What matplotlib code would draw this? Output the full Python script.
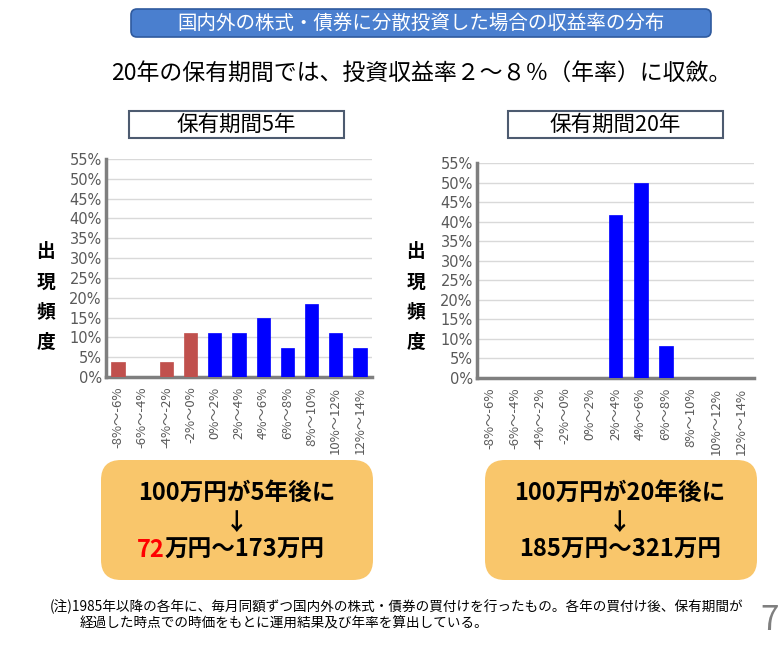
import matplotlib.pyplot as plt
from matplotlib.patches import FancyBboxPatch, Rectangle

plt.rcParams['font.family'] = ['Noto Sans CJK JP', 'DejaVu Sans']

# Data
bins = ['-8%～-6%', '-6%～-4%', '-4%～-2%', '-2%～0%', '0%～2%', '2%～4%',
        '4%～6%', '6%～8%', '8%～10%', '10%～12%', '12%～14%']
freq_5y = [3.7, 0, 3.7, 11.1, 11.1, 11.1, 14.8, 7.4, 18.5, 11.1, 7.4]
freq_20y = [0, 0, 0, 0, 0, 41.7, 50.0, 8.3, 0, 0, 0]
colors_5y = ['#c0504d'] * 4 + ['#0000ff'] * 7
colors_20y = ['#0000ff'] * 11
yticks = list(range(0, 56, 5))

W, H = 782, 646
fig = plt.figure(figsize=(W / 100, H / 100), dpi=100)

# background layer in pixel coordinates
bg = fig.add_axes([0, 0, 1, 1])
bg.set_xlim(0, W)
bg.set_ylim(H, 0)
bg.axis('off')

# title banner
bg.add_patch(FancyBboxPatch((131, 9), 580, 28, boxstyle='round,pad=0,rounding_size=6',
                            facecolor='#4a7fcf', edgecolor='#2f5a9e', linewidth=1.2))
bg.text(421, 23, '国内外の株式・債券に分散投資した場合の収益率の分布', color='white',
        fontsize=14, ha='center', va='center')
bg.text(421, 73, '20年の保有期間では、投資収益率２～８％（年率）に収斂。', color='black',
        fontsize=16.5, ha='center', va='center')

# period boxes
for x0, label in [(129, '保有期間5年'), (508, '保有期間20年')]:
    bg.add_patch(Rectangle((x0, 111), 215, 27, facecolor='white', edgecolor='#4d5b70', linewidth=1.5))
    bg.text(x0 + 107, 125, label, fontsize=15.5, ha='center', va='center')

# orange result boxes
for x0 in (101, 485):
    bg.add_patch(FancyBboxPatch((x0, 460), 272, 120, boxstyle='round,pad=0,rounding_size=20',
                                facecolor='#f9c66b', edgecolor='none'))
bg.text(237, 493, '100万円が5年後に', fontsize=17, fontweight='bold', ha='center', va='center')
bg.text(237, 523, '↓', fontsize=17, fontweight='bold', ha='center', va='center')
bg.text(165, 550, '72', fontsize=17, fontweight='bold', color='#ff0000', ha='right', va='center')
bg.text(165, 550, '万円～173万円', fontsize=17, fontweight='bold', ha='left', va='center')
bg.text(620, 493, '100万円が20年後に', fontsize=17, fontweight='bold', ha='center', va='center')
bg.text(620, 523, '↓', fontsize=17, fontweight='bold', ha='center', va='center')
bg.text(620, 550, '185万円～321万円', fontsize=17, fontweight='bold', ha='center', va='center')

# footnote and page number
bg.text(50, 607, '(注)1985年以降の各年に、毎月同額ずつ国内外の株式・債券の買付けを行ったもの。各年の買付け後、保有期間が',
        fontsize=9.8, ha='left', va='center')
bg.text(80, 623, '経過した時点での時価をもとに運用結果及び年率を算出している。',
        fontsize=9.8, ha='left', va='center')
bg.text(770, 620, '7', fontsize=24, color='#7f7f7f', ha='center', va='center')


def draw_chart(rect, values, colors, ylab_x):
    ax = fig.add_axes(rect)
    x = range(len(bins))
    ax.bar(x, values, width=0.55, color=colors, edgecolor=colors, linewidth=0.5, zorder=3)
    ax.set_xlim(-0.5, len(bins) - 0.5)
    ax.set_ylim(0, 55)
    ax.set_yticks(yticks)
    ax.set_yticklabels([f'{v}%' for v in yticks], fontsize=10.5, color='#595959',
                       family=['DejaVu Sans'])
    ax.set_xticks(list(x))
    ax.set_xticklabels(bins, rotation=90, fontsize=9.5, color='#595959')
    ax.tick_params(length=0, pad=3)
    ax.tick_params(axis='x', pad=7)
    ax.grid(axis='y', color='#d9d9d9', linewidth=1, zorder=0)
    for s in ('top', 'right'):
        ax.spines[s].set_visible(False)
    for s in ('left', 'bottom'):
        ax.spines[s].set_color('#7f7f7f')
        ax.spines[s].set_linewidth(2.5)
    bg.text(ylab_x, 297, '出\n現\n頻\n度', fontsize=13.5, fontweight='bold',
            ha='center', va='center', linespacing=1.75)
    return ax


draw_chart([106 / W, 1 - 377 / H, (372 - 106) / W, (377 - 159) / H], freq_5y, colors_5y, 46)
draw_chart([477 / W, 1 - 378 / H, (754 - 477) / W, (378 - 163) / H], freq_20y, colors_20y, 416)

fig.savefig('out.png', dpi=100)
